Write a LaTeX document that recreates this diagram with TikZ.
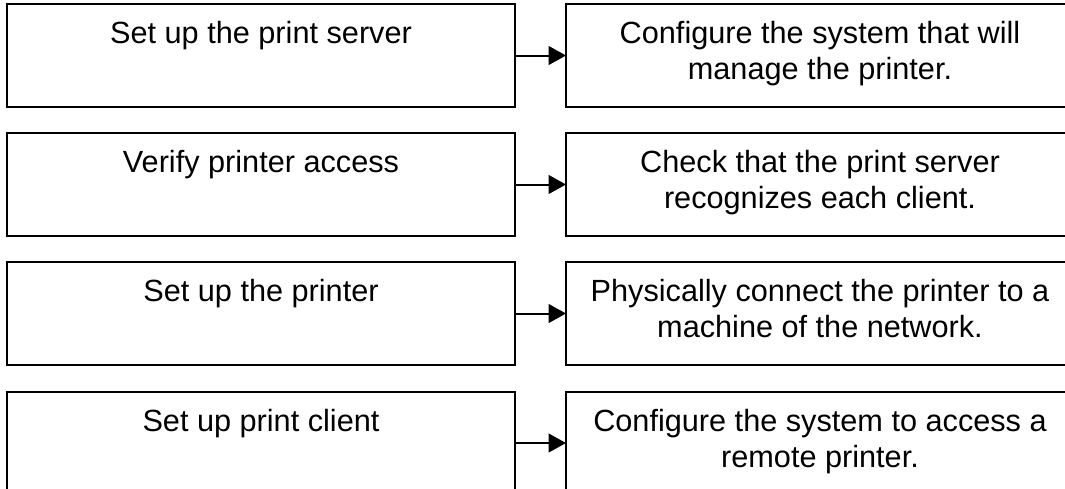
\documentclass[tikz,border=0pt]{standalone}
\usepackage{fontspec}
\setmainfont{Liberation Sans}
\usetikzlibrary{arrows.meta}
\tikzset{
  box/.style={draw=black, line width=1.5pt, minimum width=381pt, minimum height=77.25pt, inner sep=0pt, outer sep=0pt},
  label/.style={font=\fontsize{23pt}{27pt}\selectfont, align=center, anchor=base, inner sep=0pt},
  arr/.style={draw=black, line width=1.5pt, -{Triangle[length=13pt,width=14pt]}}
}
\begin{document}
\begin{tikzpicture}[x=0.75pt,y=-0.75pt]
\useasboundingbox (0,0) rectangle (1065,489);
\fill[white] (0,0) rectangle (1065,489);
\clip (0,0) rectangle (1065,489);
% left boxes
\node[box] (l1) at (261,55.5) {};
\node[box] (l2) at (261,184.5) {};
\node[box] (l3) at (261,313.5) {};
\node[box] (l4) at (261,443) {};
% right boxes
\node[box] (r1) at (820,55.5) {};
\node[box] (r2) at (820,184.5) {};
\node[box] (r3) at (820,313.5) {};
\node[box] (r4) at (820,443) {};
% texts (base anchor = baseline of the last line)
\node[label] (t1) at (261,43) {Set up the print server};
\node[label] (t2) at (261,172) {Verify printer access};
\node[label] (t3) at (261,301) {Set up the printer};
\node[label] (t4) at (261,431) {Set up print client};
\node[label] (u1) at (820,79) {Configure the system that will\\manage the printer.};
\node[label] (u2) at (820,208) {Check that the print server\\recognizes each client.};
\node[label] (u3) at (820,337) {Physically connect the printer to a\\machine of the network.};
\node[label] (u4) at (820,467) {Configure the system to access a\\remote printer.};
% arrows
\draw[arr] (l1.east) -- (r1.west);
\draw[arr] (l2.east) -- (r2.west);
\draw[arr] (l3.east) -- (r3.west);
\draw[arr] (l4.east) -- (r4.west);
\end{tikzpicture}
\end{document}
